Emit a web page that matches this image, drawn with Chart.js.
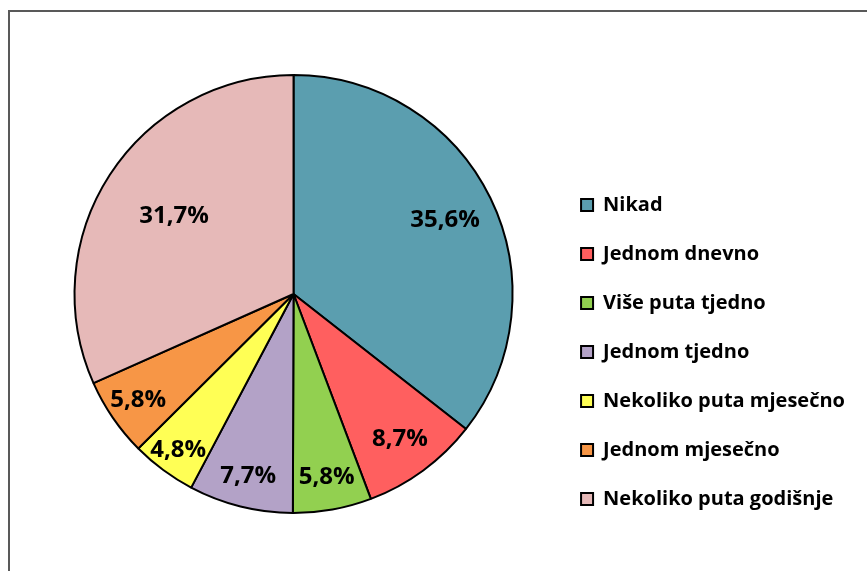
<!DOCTYPE html>
<html>
<head>
<meta charset="utf-8">
<script src="https://cdn.jsdelivr.net/npm/chart.js@4"></script>
<style>
  html, body { margin: 0; padding: 0; background: #fff; }
  #wrap { width: 867px; height: 571px; position: relative; }
</style>
</head>
<body>
<div id="wrap"><canvas id="pieChart" width="867" height="571"></canvas></div>
<script>
// Category labels and shares (percent)
const categories = ['Nikad', 'Jednom dnevno', 'Više puta tjedno', 'Jednom tjedno',
  'Nekoliko puta mjesečno', 'Jednom mjesečno', 'Nekoliko puta godišnje'];
const shares = [35.6, 8.7, 5.8, 7.7, 4.8, 5.8, 31.7];
const sliceColors = ['#5B9EAF', '#FF5F5F', '#92D050', '#B3A2C7', '#FFFF55', '#F79646', '#E6B9B8'];

// where each percent label sits, as a fraction of the radius (Excel "best fit")
const labelRadius = [0.77, 0.82, 0.85, 0.855, 0.885, 0.86, 0.65];

// frame of the chart box (top and left edges only are in view)
const framePlugin = {
  id: 'frame',
  beforeDraw(chart) {
    const ctx = chart.ctx;
    ctx.save();
    ctx.strokeStyle = '#595959';
    ctx.lineWidth = 2;
    ctx.beginPath();
    ctx.moveTo(9, 571);
    ctx.lineTo(9, 11);
    ctx.lineTo(867, 11);
    ctx.stroke();
    ctx.restore();
  }
};

// percent labels inside the slices
const sliceLabels = {
  id: 'sliceLabels',
  afterDatasetsDraw(chart) {
    const ctx = chart.ctx;
    const meta = chart.getDatasetMeta(0);
    ctx.save();
    ctx.font = 'bold 24px "Open Sans"';
    ctx.fillStyle = '#000';
    ctx.textAlign = 'center';
    ctx.textBaseline = 'middle';
    meta.data.forEach((arc, i) => {
      const mid = (arc.startAngle + arc.endAngle) / 2;
      const r = arc.outerRadius * labelRadius[i];
      const x = arc.x + Math.cos(mid) * r;
      const y = arc.y + Math.sin(mid) * r;
      ctx.fillText(shares[i].toFixed(1).replace('.', ',') + '%', x, y);
    });
    ctx.restore();
  }
};

new Chart(document.getElementById('pieChart'), {
  type: 'pie',
  data: {
    labels: categories,
    datasets: [{
      data: shares,
      backgroundColor: sliceColors,
      borderColor: '#000',
      borderWidth: 2,
      radius: 219
    }]
  },
  options: {
    responsive: false,
    animation: false,
    layout: { padding: { left: 35, right: 12, top: 50, bottom: 33 } },
    plugins: {
      tooltip: { enabled: false },
      legend: {
        position: 'right',
        align: 'end',
        labels: {
          boxWidth: 12,
          boxHeight: 12,
          padding: 29,
          color: '#000',
          font: { family: 'Open Sans', size: 20, weight: 'bold' }
        }
      }
    }
  },
  plugins: [framePlugin, sliceLabels]
});
</script>
</body>
</html>
